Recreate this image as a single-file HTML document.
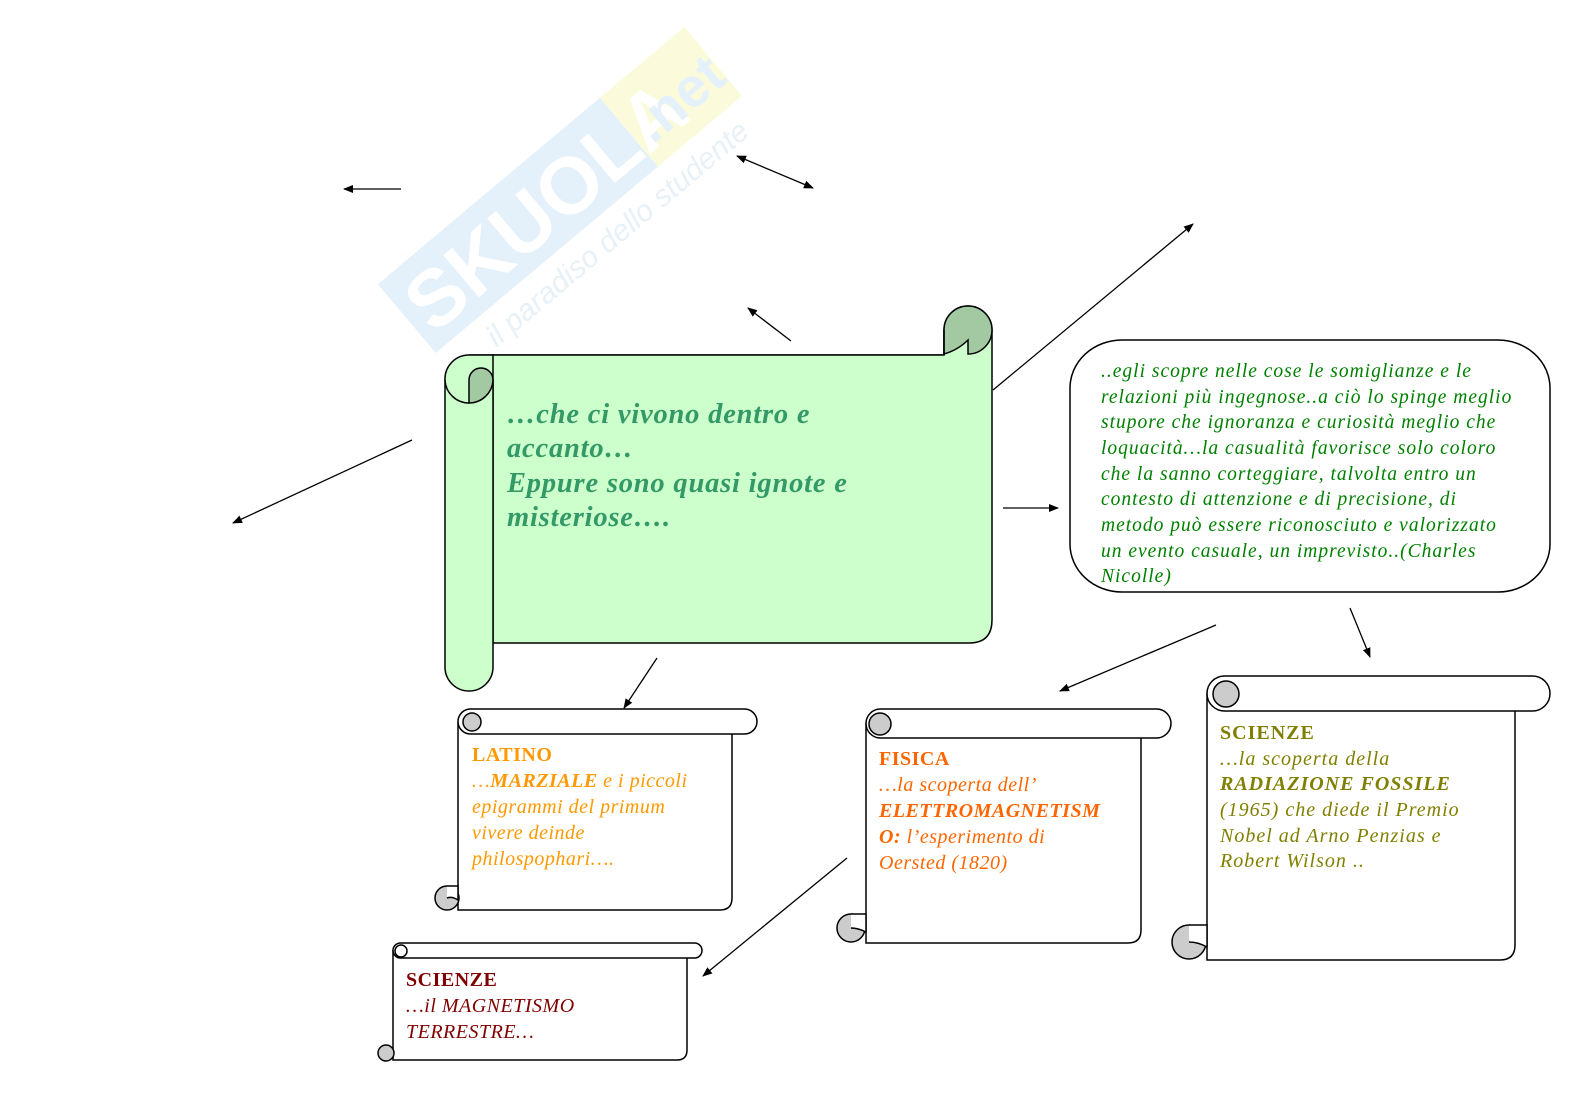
<!DOCTYPE html>
<html><head><meta charset="utf-8"><style>
html,body{margin:0;padding:0;background:#fff;overflow:hidden;width:1579px;height:1116px;}
svg{display:block}
text{font-family:"Liberation Serif",serif;}
</style></head><body>
<svg width="1579" height="1116" viewBox="0 0 1579 1116" xmlns="http://www.w3.org/2000/svg">
<defs>
<marker id="a" markerWidth="10" markerHeight="8" refX="9" refY="4" orient="auto" markerUnits="userSpaceOnUse"><path d="M0,0 L10,4 L0,8 z" fill="#000"/></marker>
<marker id="b" markerWidth="10" markerHeight="8" refX="1" refY="4" orient="auto" markerUnits="userSpaceOnUse"><path d="M10,0 L0,4 L10,8 z" fill="#000"/></marker>
</defs>
<!-- watermark -->
<g transform="translate(560,190) rotate(-40)" opacity="0.9">
<rect x="-200" y="-45" width="290" height="90" fill="#e2f0fa"/>
<rect x="90" y="-45" width="110" height="90" fill="#fbfbd8"/>
<text x="-190" y="30" font-weight="bold" font-size="80" fill="#fff" style="font-family:'Liberation Sans',sans-serif">SKUOLA</text>
<text x="100" y="25" font-size="56" fill="#e2f0fa" style="font-family:'Liberation Sans',sans-serif" font-weight="bold">.net</text>
<text x="-150" y="80" font-size="30" fill="#e5f0f7" font-style="italic" style="font-family:'Liberation Sans',sans-serif">il paradiso dello studente</text>
</g>

<!-- main scroll -->
<g stroke="#000" stroke-width="1.5">
<path d="M944,330 A24,24 0 0 1 992,330 L992,620 Q992,643 969,643 L493,643 L493,355 L944,355 Z" fill="#ccffcc"/>
<path d="M944,330 A24,24 0 0 1 992,330 A24,24 0 0 1 968,354 L968,340 Q958,350 944,354 Z" fill="#a3c9a3"/>
<line x1="944" y1="330" x2="944" y2="355"/>
<path d="M469,355 L944,355 L944,380 L493,380 Z" fill="#ccffcc" stroke="none"/>
<line x1="469" y1="355" x2="944" y2="355"/>
<path d="M445,380 A24,24 0 0 1 469,355 L493,355 L493,380 L493,667 A24,24 0 0 1 445,667 Z" fill="#ccffcc"/>
<path d="M493,380 A12,12 0 0 0 469,380 L469,403 A24,24 0 0 0 493,380 Z" fill="#a3c9a3"/>
<path d="M445,380 A24,24 0 0 0 469,403" fill="none"/>
</g>
<g font-style="italic" font-weight="bold" font-size="28.5" fill="#339966" letter-spacing="0.8">
<text x="507" y="423">…che ci vivono dentro e</text>
<text x="507" y="457">accanto…</text>
<text x="507" y="492">Eppure sono quasi ignote e</text>
<text x="507" y="526">misteriose….</text>
</g>

<!-- callout -->
<rect x="1070" y="340" width="480" height="252" rx="52" ry="48" fill="#fff" stroke="#000" stroke-width="1.5"/>
<g font-style="italic" font-size="19.5" fill="#008000" letter-spacing="1">
<text x="1101" y="377">..egli scopre nelle cose le somiglianze e le</text>
<text x="1101" y="403">relazioni più ingegnose..a ciò lo spinge meglio</text>
<text x="1101" y="428">stupore che ignoranza e curiosità meglio che</text>
<text x="1101" y="454">loquacità…la casualità favorisce solo coloro</text>
<text x="1101" y="480">che la sanno corteggiare, talvolta entro un</text>
<text x="1101" y="505">contesto di attenzione e di precisione, di</text>
<text x="1101" y="531">metodo può essere riconosciuto e valorizzato</text>
<text x="1101" y="557">un evento casuale, un  imprevisto..(Charles</text>
<text x="1101" y="582">Nicolle)</text>
</g>

<!-- small scrolls -->
<g stroke="#000" stroke-width="1.5">
<path d="M458,722 L458,910 L720,910 Q732,910 732,898 L732,734" fill="#fff"/>
<rect x="458" y="709" width="299" height="25" rx="12.5" fill="#fff"/>
<circle cx="472" cy="722" r="9" fill="#cccccc"/>
<circle cx="447" cy="898" r="12" fill="#cccccc"/>
<path d="M447,886 L458,886 L458,900 Q452,896 447,898" fill="#fff"/>

<path d="M393,950 L393,1060 L677,1060 Q687,1060 687,1050 L687,958" fill="#fff"/>
<rect x="393" y="943" width="309" height="15" rx="7.5" fill="#fff"/>
<circle cx="401" cy="951" r="6" fill="#fff"/>
<circle cx="386" cy="1053" r="8" fill="#cccccc"/>

<path d="M866,723 L866,943 L1128,943 Q1141,943 1141,930 L1141,738" fill="#fff"/>
<rect x="866" y="709" width="305" height="29" rx="14.5" fill="#fff"/>
<circle cx="880" cy="724" r="11" fill="#cccccc"/>
<circle cx="851" cy="928" r="14" fill="#cccccc"/>
<path d="M851,914 L866,914 L866,932 Q858,928 851,928" fill="#fff"/>

<path d="M1207,693 L1207,960 L1500,960 Q1515,960 1515,945 L1515,711" fill="#fff"/>
<rect x="1207" y="676" width="343" height="35" rx="17.5" fill="#fff"/>
<circle cx="1226" cy="694" r="13" fill="#cccccc"/>
<circle cx="1189" cy="942" r="17" fill="#cccccc"/>
<path d="M1189,925 L1207,925 L1207,947 Q1198,942 1189,942" fill="#fff"/>
</g>

<g font-size="20" letter-spacing="0.5">
<text x="472" y="761" fill="#ff9900" font-weight="bold">LATINO</text>
<g fill="#ff9900" font-style="italic">
<text x="472" y="787">…<tspan font-weight="bold">MARZIALE</tspan> e i piccoli</text>
<text x="472" y="813">epigrammi del primum</text>
<text x="472" y="839">vivere deinde</text>
<text x="472" y="865">philospophari….</text>
</g>
<text x="406" y="986" fill="#800000" font-weight="bold">SCIENZE</text>
<g fill="#800000" font-style="italic">
<text x="406" y="1012">…il MAGNETISMO</text>
<text x="406" y="1038">TERRESTRE…</text>
</g>
<text x="879" y="765" fill="#ff6600" font-weight="bold">FISICA</text>
<g fill="#ff6600" font-style="italic">
<text x="879" y="791">…la scoperta dell’</text>
<text x="879" y="817" font-weight="bold">ELETTROMAGNETISM</text>
<text x="879" y="843"><tspan font-weight="bold">O:</tspan> l’esperimento di</text>
<text x="879" y="869">Oersted (1820)</text>
</g>
<g letter-spacing="1">
<text x="1220" y="739" fill="#808000" font-weight="bold">SCIENZE</text>
<g fill="#808000" font-style="italic">
<text x="1220" y="765">…la scoperta della</text>
<text x="1220" y="790" font-weight="bold">RADIAZIONE FOSSILE</text>
<text x="1220" y="816">(1965) che diede il Premio</text>
<text x="1220" y="842">Nobel ad Arno Penzias e</text>
<text x="1220" y="867">Robert Wilson ..</text>
</g>
</g>
</g>

<!-- arrows -->
<g stroke="#000" stroke-width="1.3" fill="none">
<line x1="401" y1="189" x2="344" y2="189" marker-end="url(#a)"/>
<line x1="737" y1="156" x2="813" y2="188" marker-start="url(#b)" marker-end="url(#a)"/>
<line x1="791" y1="341" x2="748" y2="308" marker-end="url(#a)"/>
<line x1="993" y1="390" x2="1193" y2="224" marker-end="url(#a)"/>
<line x1="412" y1="440" x2="233" y2="523" marker-end="url(#a)"/>
<line x1="1003" y1="508" x2="1058" y2="508" marker-end="url(#a)"/>
<line x1="657" y1="658" x2="624" y2="708" marker-end="url(#a)"/>
<line x1="1216" y1="625" x2="1060" y2="691" marker-end="url(#a)"/>
<line x1="1350" y1="608" x2="1370" y2="657" marker-end="url(#a)"/>
<line x1="847" y1="858" x2="703" y2="976" marker-end="url(#a)"/>
</g>
</svg>
</body></html>
